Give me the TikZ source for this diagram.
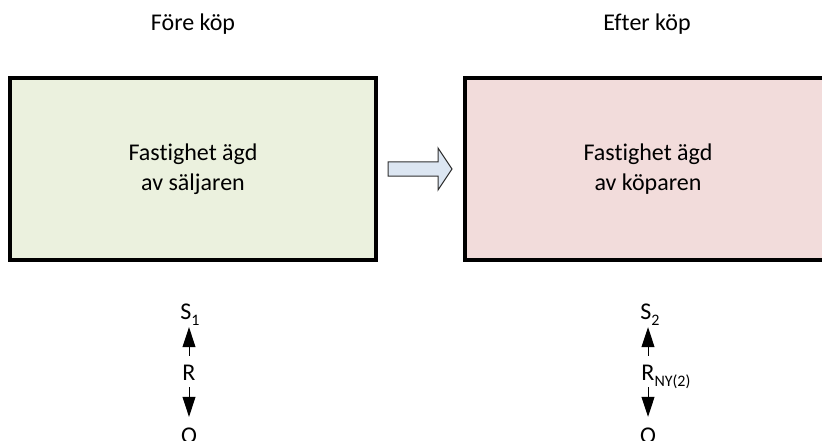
\documentclass[tikz,border=0pt]{standalone}
\usepackage{fontspec}
\setmainfont[Ligatures=NoCommon]{Carlito}
\usetikzlibrary{arrows.meta}
\definecolor{boxgreen}{HTML}{EBF1DE}
\definecolor{boxpink}{HTML}{F2DCDB}
\definecolor{arrowblue}{HTML}{DCE6F2}
\definecolor{arrowgray}{HTML}{303030}
\newcommand{\sbs}[1]{\raisebox{-0.28em}{\fontsize{16}{16}\selectfont #1}}
\begin{document}
\begin{tikzpicture}[x=1pt,y=1pt, font=\fontsize{24}{30}\selectfont,
  title/.style={inner sep=0pt, anchor=base},
  bigbox/.style={draw=black, line width=4pt, minimum width=366pt, minimum height=182pt, align=center, inner sep=0pt},
  lbl/.style={inner sep=0pt, text height=16pt, text depth=0pt, anchor=base},
  rel/.style={line width=1pt, -{Triangle[length=20pt,width=13pt]}}]
\useasboundingbox (0,0) rectangle (822,-441);
\node[title] (t1) at (193,-31) {Före köp};
\node[title] (t2) at (647,-31) {Efter köp};
\node[bigbox, fill=boxgreen] (b1) at (193,-169) {Fastighet ägd\\av säljaren};
\node[bigbox, fill=boxpink] (b2) at (648,-169) {Fastighet ägd\\av köparen};
\draw[draw=arrowgray, fill=arrowblue, line width=1pt, line join=miter]
  (388,-162) -- (438,-162) -- (438,-148) -- (452,-169) -- (438,-190) -- (438,-176) -- (388,-176) -- cycle;
% left column
\node[lbl] (s1) at (190,-319) {S\sbs{1}};
\node[lbl] (r1) at (189,-380) {R};
\node[lbl] (o1) at (189,-443) {O};
\draw[rel, shorten <=8pt, shorten >=8pt] (r1.north) -- (r1.north |- s1.south);
\draw[rel, shorten <=7pt, shorten >=10pt] (r1.south) -- (o1.north);
% right column
\node[lbl] (s2) at (650,-319) {S\sbs{2}};
\node[lbl] (r2) at (648,-380) {R\rlap{\sbs{NY(2)}}};
\node[lbl] (o2) at (648,-443) {O};
\draw[rel, shorten <=8pt, shorten >=8pt] (r2.north) -- (r2.north |- s2.south);
\draw[rel, shorten <=7pt, shorten >=10pt] (r2.south) -- (o2.north);
\end{tikzpicture}
\end{document}
